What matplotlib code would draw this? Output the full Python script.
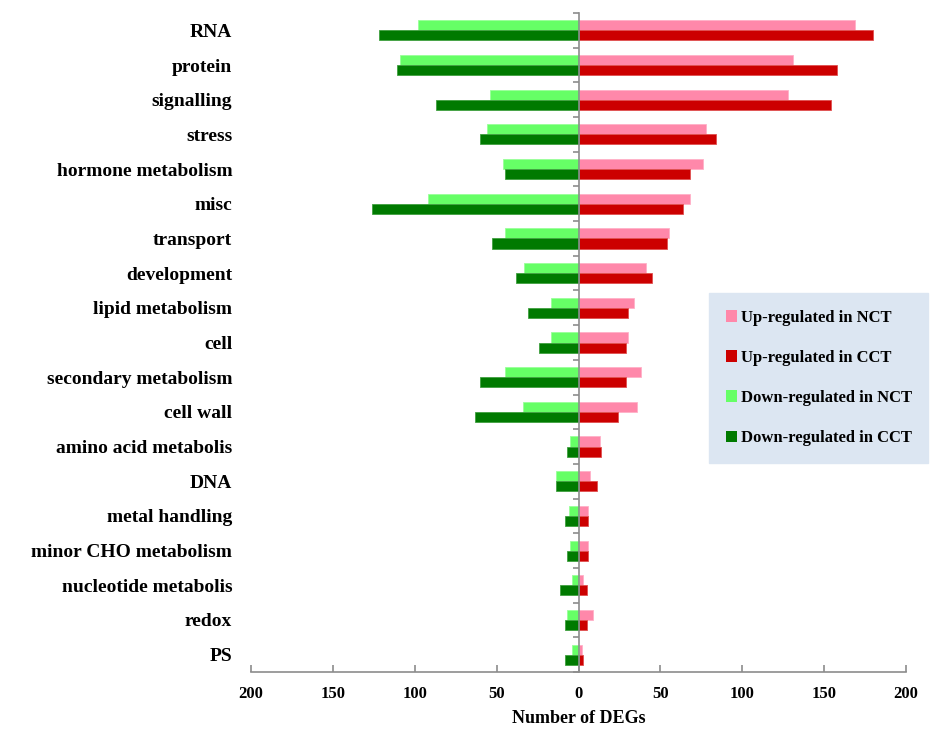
import matplotlib
matplotlib.use("Agg")
import matplotlib.pyplot as plt
import numpy as np
from matplotlib.patches import Patch

categories = ["RNA", "protein", "signalling", "stress", "hormone metabolism", "misc",
              "transport", "development", "lipid metabolism", "cell",
              "secondary metabolism", "cell wall", "amino acid metabolis", "DNA",
              "metal handling", "minor CHO metabolism", "nucleotide metabolis",
              "redox", "PS"]
up_nct = [169, 131, 128, 78, 76, 68, 55, 41, 34, 30, 38, 36, 13, 7, 6, 6, 3, 9, 2]
up_cct = [180, 158, 154, 84, 68, 64, 54, 45, 30, 29, 29, 24, 14, 11, 6, 6, 5, 5, 3]
down_nct = [98, 109, 54, 56, 46, 92, 45, 33, 17, 17, 45, 34, 5, 14, 6, 5, 4, 7, 4]
down_cct = [122, 111, 87, 60, 45, 126, 53, 38, 31, 24, 60, 63, 7, 14, 8, 7, 11, 8, 8]
xticks = [-200, -150, -100, -50, 0, 50, 100, 150, 200]
series_labels = ["Up-regulated in NCT", "Up-regulated in CCT",
                 "Down-regulated in NCT", "Down-regulated in CCT"]

c_pink = "#FF88AA"
c_red = "#CC0000"
c_lg = "#66FF66"
c_dg = "#007A00"
c_axis = "#8C8C8C"

plt.rcParams["font.family"] = ["Liberation Serif", "DejaVu Serif"]
plt.rcParams["font.weight"] = "bold"

fig = plt.figure(figsize=(9.3, 7.4), dpi=100)
ax = fig.add_axes([251 / 930, 1 - 672 / 740, (906 - 251) / 930, (672 - 13) / 740])

y = np.arange(len(categories))
h = 0.29
off = 0.145
ax.barh(y - off, up_nct, height=h, color=c_pink, edgecolor="#FFB0C8", linewidth=0.6)
ax.barh(y + off, up_cct, height=h, color=c_red, edgecolor="#E05050", linewidth=0.6)
ax.barh(y - off, [-v for v in down_nct], height=h, color=c_lg, edgecolor="#99FF99", linewidth=0.6)
ax.barh(y + off, [-v for v in down_cct], height=h, color=c_dg, edgecolor="#40A040", linewidth=0.6)

ax.set_xlim(-200, 200)
ax.set_ylim(len(categories) - 0.5, -0.5)

# x axis
ax.set_xticks(xticks)
ax.set_xticklabels([str(abs(t)) for t in xticks], fontsize=12, fontweight="bold")
ax.tick_params(axis="x", direction="in", length=5, color=c_axis, width=1.2, pad=10)
ax.spines["bottom"].set_color(c_axis)
ax.spines["bottom"].set_linewidth(1.2)
ax.set_xlabel("Number of DEGs", fontsize=13, fontweight="bold", labelpad=6)

# y axis: labels at far left, center spine with boundary ticks
ax.spines["left"].set_visible(False)
ax.spines["top"].set_visible(False)
ax.spines["right"].set_position(("data", 0))
ax.spines["right"].set_color(c_axis)
ax.spines["right"].set_linewidth(1.2)
ax.set_yticks(y)
ax.set_yticklabels(categories, fontsize=14, fontweight="bold")
ax.set_yticks(np.arange(-0.5, len(categories), 1.0), minor=True)
ax.tick_params(axis="y", which="major", left=False, right=False, labelleft=True,
               labelright=False, pad=10)
ax.tick_params(axis="y", which="minor", left=False, right=True, direction="in",
               length=4, color=c_axis, width=1.2, labelleft=False, labelright=False)

handles = [Patch(facecolor=c, edgecolor="none") for c in [c_pink, c_red, c_lg, c_dg]]
leg = fig.legend(handles, series_labels, loc="upper left",
                 bbox_to_anchor=(709 / 930, 1 - 293 / 740),
                 frameon=True, fancybox=False, facecolor="#DCE6F2", edgecolor="#DCE6F2",
                 prop={"family": ["Liberation Serif"], "weight": "bold", "size": 12},
                 handlelength=0.7, handleheight=0.7, handletextpad=0.2,
                 labelspacing=1.45, borderpad=1.0, borderaxespad=0)
leg.get_frame().set_alpha(1)

fig.savefig("out.png", dpi=100)
